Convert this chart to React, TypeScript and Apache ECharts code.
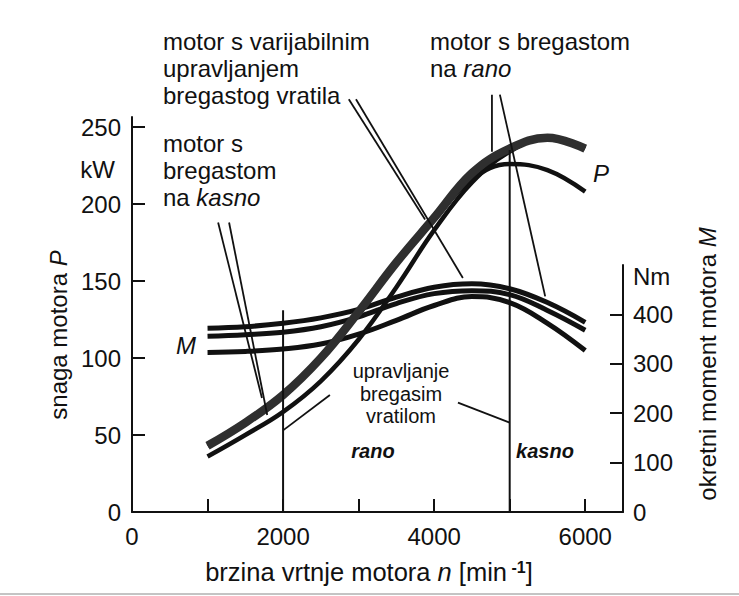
import React, { useEffect, useRef } from 'react';
import * as echarts from 'echarts';

// ---- data ----
const rpm = [1000, 1500, 2000, 2500, 3000, 3500, 4000, 4500, 5000, 5500, 6000];
// power P [kW]
const powerVariable = [43, 58, 76, 100, 130, 162, 191, 220, 236, 243, 236];
const powerEarly = [43, 58, 76, 100, 130, 162, 190, 216, 226, 222, 208];
const powerLate = [36, 50, 65, 85, 112, 146, 183, 214, 234, 243, 236];
// torque M [Nm]
const torqueA = [372, 375, 382, 393, 410, 435, 455, 462, 452, 424, 384];
const torqueB = [356, 359, 364, 375, 395, 422, 442, 448, 440, 408, 368];
const torqueC = [323, 325, 330, 340, 360, 388, 418, 436, 424, 382, 327];

const xTicks = [1000, 2000, 3000, 4000, 5000, 6000];
const xTickLabels = [0, 2000, 4000, 6000];
const powerTicks = [50, 100, 150, 200, 250];
const powerTickLabels = [0, 50, 100, 150, 200, 250];
const torqueTicks = [100, 200, 300, 400];
const torqueTickLabels = [0, 100, 200, 300, 400];

// control-point lines (rpm, kW on the power axis)
const switchLines = [
  [[2000, 0], [2000, 131]],
  [[5000, 0], [5000, 235]],
];
const leaderLines = [
  [[2870, 268], [3880, 190]],
  [[2965, 268], [4380, 152]],
  [[4765, 271], [4765, 234]],
  [[4870, 271], [5470, 140]],
  [[1140, 188], [1720, 74]],
  [[1285, 188], [1790, 63]],
  [[2620, 76], [2000, 53]],
  [[4315, 71], [5000, 58]],
];

const FONT = '"Liberation Sans", Arial, Helvetica, sans-serif';
const INK = '#111';

const zip = (xs: number[], ys: number[]) => xs.map((x, i) => [x, ys[i]]);

export default function App() {
  const ref = useRef<HTMLDivElement>(null);
  useEffect(() => {
    document.body.style.margin = '0';
    const chart = echarts.init(ref.current!, undefined, { renderer: 'svg' });
    const curve = (data: number[][], width: number, color: string, axis: number, z: number) => ({
      type: 'line',
      data,
      xAxisIndex: axis,
      yAxisIndex: axis,
      smooth: 0.4,
      symbol: 'none',
      showSymbol: false,
      silent: true,
      z,
      lineStyle: { color, width },
    });
    const thin = (data: number[][], width: number) => ({
      type: 'line',
      data,
      xAxisIndex: 0,
      yAxisIndex: 0,
      symbol: 'none',
      showSymbol: false,
      silent: true,
      clip: false,
      z: 6,
      lineStyle: { color: INK, width },
    });
    const rich = (size: number) => ({
      i: { fontStyle: 'italic', fontSize: size, fontFamily: FONT, fill: INK },
    });
    const txt = (x: number, y: number, text: string, extra: any = {}) => ({
      type: 'text',
      x,
      y,
      z: 10,
      style: {
        text,
        fontSize: 24,
        fontFamily: FONT,
        fill: INK,
        lineHeight: 27,
        align: 'left',
        verticalAlign: 'top',
        rich: rich(extra.fontSize || 24),
        ...extra,
      },
    });
    const axisText = { color: INK, fontSize: 24, fontFamily: FONT, formatter: (v: number) => String(v) };
    chart.setOption({
      animation: false,
      backgroundColor: '#fff',
      grid: [
        { left: 132, width: 491, top: 117, height: 395 },
        { left: 132, width: 491, top: 265, height: 247 },
      ],
      xAxis: [
        {
          type: 'value', gridIndex: 0, min: 0, max: 6500, interval: 1000,
          axisLine: { show: true, onZero: false, lineStyle: { color: INK, width: 2 } },
          axisTick: { show: true, inside: true, length: 13, lineStyle: { color: INK, width: 2 }, customValues: xTicks },
          axisLabel: { ...axisText, margin: 12, customValues: xTickLabels },
          splitLine: { show: false },
        },
        { type: 'value', gridIndex: 1, min: 0, max: 6500, show: false },
      ],
      yAxis: [
        {
          type: 'value', gridIndex: 0, min: 0, max: 256.5, interval: 50,
          axisLine: { show: true, onZero: false, lineStyle: { color: INK, width: 2 } },
          axisTick: { show: true, inside: true, length: 13, lineStyle: { color: INK, width: 2 }, customValues: powerTicks },
          axisLabel: { ...axisText, margin: 11, customValues: powerTickLabels },
          splitLine: { show: false },
        },
        {
          type: 'value', gridIndex: 1, position: 'right', min: 0, max: 500, interval: 100,
          axisLine: { show: true, onZero: false, lineStyle: { color: INK, width: 2 } },
          axisTick: { show: true, inside: true, length: 13, lineStyle: { color: INK, width: 2 }, customValues: torqueTicks },
          axisLabel: { ...axisText, margin: 10, customValues: torqueTickLabels },
          splitLine: { show: false },
        },
      ],
      series: [
        curve(zip(rpm, torqueA), 5, INK, 1, 3),
        curve(zip(rpm, torqueB), 5, INK, 1, 3),
        curve(zip(rpm, torqueC), 5, INK, 1, 3),
        curve(zip(rpm, powerEarly), 4.5, INK, 0, 4),
        curve(zip(rpm, powerLate), 4.5, INK, 0, 4),
        curve(zip(rpm, powerVariable), 8.5, '#2f2f2f', 0, 5),
        ...switchLines.map((l) => thin(l, 2)),
        ...leaderLines.map((l) => thin(l, 1.8)),
      ],
      graphic: [
        txt(163, 28, 'motor s varijabilnim\nupravljanjem\nbregastog vratila'),
        txt(430, 28, 'motor s bregastom\nna {i|rano}'),
        txt(163, 130, 'motor s\nbregastom\nna {i|kasno}'),
        txt(401, 360, 'upravljanje\nbregasim\nvratilom', { fontSize: 20, lineHeight: 22.5, align: 'center' }),
        txt(373, 451, 'rano', { fontSize: 20, fontWeight: 'bold', fontStyle: 'italic', align: 'center', verticalAlign: 'middle' }),
        txt(545, 451, 'kasno', { fontSize: 20, fontWeight: 'bold', fontStyle: 'italic', align: 'center', verticalAlign: 'middle' }),
        txt(601, 173, 'P', { fontStyle: 'italic', align: 'center', verticalAlign: 'middle' }),
        txt(186, 345, 'M', { fontStyle: 'italic', align: 'center', verticalAlign: 'middle' }),
        txt(115, 169, 'kW', { align: 'right', verticalAlign: 'middle' }),
        txt(633, 276, 'Nm', { align: 'left', verticalAlign: 'middle' }),
        {
          ...txt(58, 335, 'snaga motora {i|P}', { align: 'center', verticalAlign: 'middle' }),
          rotation: Math.PI / 2,
        },
        {
          ...txt(707, 364, 'okretni moment motora {i|M}', { align: 'center', verticalAlign: 'middle' }),
          rotation: Math.PI / 2,
        },
        {
          type: 'text',
          x: 369,
          y: 572,
          z: 10,
          style: {
            text: '{a|brzina vrtnje motora }{i|n}{a| [min}{s| -1}{a|]}',
            align: 'center',
            verticalAlign: 'middle',
            rich: {
              a: { fontSize: 25.5, fontFamily: FONT, fill: INK },
              i: { fontSize: 25.5, fontFamily: FONT, fill: INK, fontStyle: 'italic' },
              s: { fontSize: 16, fontFamily: FONT, fill: INK, verticalAlign: 'top', fontWeight: 'bold' },
            },
          },
        },
        {
          type: 'line',
          shape: { x1: 0, y1: 594, x2: 739, y2: 594 },
          style: { stroke: '#c4c4c4', lineWidth: 2 },
        },
      ],
    });
    return () => chart.dispose();
  }, []);
  return (
    <div
      ref={ref}
      style={{ position: 'fixed', left: 0, top: 0, width: 739, height: 596, background: '#fff' }}
    />
  );
}
